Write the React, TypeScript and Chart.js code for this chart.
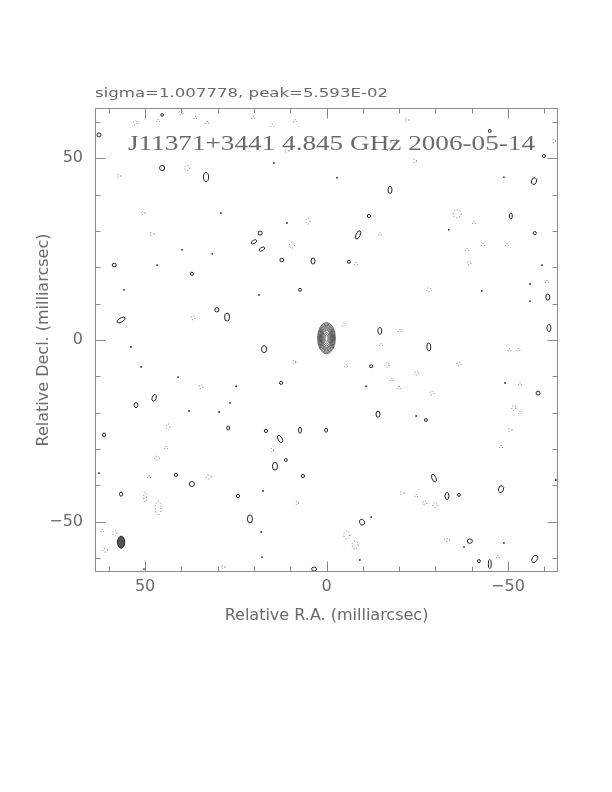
import React, { useEffect, useRef } from 'react';
import { Chart, registerables } from 'chart.js';

Chart.register(...registerables);

// ---------- texts ----------
const SIGMA_TEXT = 'sigma=1.007778, peak=5.593E-02';
const MAP_TITLE = 'J11371+3441 4.845 GHz 2006-05-14';
const X_TITLE = 'Relative R.A. (milliarcsec)';
const Y_TITLE = 'Relative Decl. (milliarcsec)';

// ---------- axes ----------
const AXIS_MIN = -63.8;
const AXIS_MAX = 63.8;
const minorTicks = [-60, -50, -40, -30, -20, -10, 0, 10, 20, 30, 40, 50, 60];
const majorTicks = [-50, 0, 50];
const tickLabels: Record<string, string> = { '50': '50', '0': '0', '-50': '\u221250' };

// ---------- central component: contour half-sizes (mas) ----------
const coreCenter = [0, 0.5];
const coreA = [2.45, 2.2, 1.95, 1.72, 1.5, 1.28, 1.05, 0.75, 0.45];
const coreB = [4.3, 3.95, 3.6, 3.25, 2.9, 2.55, 2.15, 1.6, 1.0];

// ---------- restoring beam [ra, dec, a, b, angle] ----------
const beam = [56.6, -55.6, 1.0, 1.65, 0];

// ---------- positive noise contours [ra, dec, a, b, angle] ----------
const positiveBlobs: number[][] = [
  [62.7, 56.4, 0.55, 0.55, 0], [45.3, 47.3, 0.69, 0.69, 0], [33.2, 44.8, 0.69, 1.24, 0],
  [18.3, 29.4, 0.55, 0.55, 0], [20.0, 27.0, 0.83, 0.45, -30], [17.8, 25.0, 0.83, 0.45, -30],
  [12.3, 22.0, 0.55, 0.5, 0], [3.7, 21.7, 0.55, 0.83, 0], [58.5, 20.6, 0.55, 0.5, 0],
  [37.1, 18.2, 0.41, 0.45, 0], [7.3, 13.8, 0.41, 0.41, 0], [56.6, 5.5, 1.24, 0.55, -30],
  [30.2, 8.3, 0.55, 0.6, 0], [27.4, 6.3, 0.69, 1.1, 0], [-45.0, 57.5, 0.41, 0.41, 0],
  [-59.9, 50.6, 0.41, 0.41, 0], [-17.5, 41.3, 0.55, 0.96, 0], [-57.2, 43.7, 0.69, 0.96, 20],
  [-11.7, 34.1, 0.45, 0.45, 0], [-50.8, 34.1, 0.41, 0.83, 0], [-8.7, 28.9, 0.55, 1.24, 25],
  [-57.4, 29.4, 0.41, 0.45, 0], [-6.2, 21.5, 0.41, 0.41, 0], [-61.0, 11.8, 0.55, 0.83, 0],
  [-14.7, 2.5, 0.55, 0.96, 0], [-61.3, 3.3, 0.55, 0.96, 0], [17.2, -2.5, 0.69, 0.96, 0],
  [12.5, -11.8, 0.45, 0.41, 0], [47.5, -15.9, 0.55, 0.96, 20], [52.5, -17.9, 0.55, 0.69, 0],
  [61.3, -26.1, 0.41, 0.55, 0], [27.1, -24.2, 0.41, 0.55, 0], [16.7, -25.0, 0.45, 0.45, 0],
  [7.3, -24.8, 0.41, 0.83, 0], [0.1, -24.8, 0.41, 0.55, 0], [12.8, -27.2, 0.55, 1.1, -30],
  [11.2, -33.0, 0.41, 0.41, 0], [14.2, -34.7, 0.69, 1.1, 0], [41.5, -37.1, 0.45, 0.45, 0],
  [37.1, -39.6, 0.69, 0.69, 0], [6.5, -37.4, 0.45, 0.45, 0], [56.6, -42.4, 0.45, 0.55, 0],
  [24.4, -42.9, 0.45, 0.45, 0], [21.1, -49.2, 0.69, 1.1, 0], [3.4, -63.0, 0.69, 0.55, 0],
  [-28.2, -1.9, 0.55, 1.1, 0], [-12.3, -7.2, 0.45, 0.41, 0], [-58.3, -14.6, 0.55, 0.55, 0],
  [-14.2, -20.4, 0.55, 0.83, 0], [-27.4, -22.0, 0.41, 0.41, 0], [-29.6, -38.0, 0.55, 1.1, -25],
  [-48.1, -41.0, 0.69, 0.96, 20], [-33.2, -42.9, 0.55, 0.96, 0], [-36.5, -42.6, 0.41, 0.41, 0],
  [-9.8, -50.1, 0.69, 0.83, -30], [-39.5, -55.3, 0.69, 0.6, 0], [-42.0, -60.8, 0.41, 0.41, 0],
  [-45.0, -61.6, 0.41, 1.24, 0], [-57.4, -60.2, 0.69, 1.1, 30], [45.3, 61.9, 0.35, 0.35, 0],
];

// ---------- negative noise contours (dotted) [ra, dec, a, b] ----------
const negativeBlobs: number[][] = [
  [38.4, 47.3, 0.69, 0.69], [57.2, 45.1, 0.55, 0.41], [50.5, 34.9, 0.55, 0.41], [48.1, 29.1, 0.55, 0.41],
  [9.5, 26.1, 0.69, 0.83], [5.1, 32.7, 0.55, 0.83], [36.8, 6.1, 0.55, 0.55], [40.1, 62.5, 0.55, 0.55],
  [52.7, 59.7, 0.55, 0.55], [46.4, 60.2, 0.41, 0.41], [36.2, 61.1, 0.41, 0.41], [32.9, 59.7, 0.41, 0.41],
  [20.2, 61.1, 0.41, 0.41], [15.0, 58.9, 0.41, 0.41], [8.7, 60.2, 0.41, 0.41], [10.9, 52.0, 0.55, 0.41],
  [-22.2, 60.5, 0.55, 0.41], [-18.9, 54.7, 0.55, 0.55], [-17.2, 52.3, 0.41, 0.41], [-62.7, 54.7, 0.41, 0.55],
  [-24.4, 49.2, 0.41, 0.55], [-36.0, 34.7, 1.1, 1.1], [-40.6, 32.2, 0.41, 0.41], [-14.7, 29.1, 0.41, 0.41],
  [-38.7, 24.8, 0.41, 0.41], [-39.3, 21.2, 0.55, 0.55], [-43.1, 26.1, 0.41, 0.41], [-49.7, 26.1, 0.41, 0.41],
  [-8.1, 20.9, 0.41, 0.41], [-28.2, 13.8, 0.69, 0.55], [-60.7, 16.0, 0.41, 0.41], [-4.8, 4.1, 0.41, 0.41],
  [-20.2, 2.5, 0.41, 0.41], [8.9, -6.1, 0.41, 0.55], [34.6, -12.9, 0.55, 0.55], [43.7, -23.9, 0.55, 0.83],
  [15.0, -30.3, 0.41, 0.55], [44.2, -29.7, 0.41, 0.41], [46.7, -32.5, 0.69, 0.55], [48.9, -37.7, 0.41, 0.41],
  [32.4, -37.7, 0.69, 0.55], [50.0, -43.2, 0.41, 1.38], [46.4, -46.2, 0.83, 1.93], [8.1, -44.8, 0.41, 0.55],
  [61.8, -52.5, 0.41, 0.41], [58.3, -53.1, 0.55, 0.83], [61.0, -57.8, 0.69, 0.55], [28.5, -62.4, 0.55, 0.41],
  [-15.0, -1.4, 0.41, 0.41], [-50.4, -2.8, 0.41, 0.41], [-52.9, -2.8, 0.41, 0.41], [-5.4, -7.2, 0.41, 0.41],
  [-16.7, -6.9, 0.55, 0.69], [-36.5, -6.6, 0.55, 0.55], [-24.9, -9.1, 0.55, 0.55], [-18.0, -11.0, 0.41, 0.41],
  [-20.0, -13.2, 0.41, 0.41], [-53.3, -12.1, 0.41, 0.41], [-29.1, -14.6, 0.55, 0.55], [-51.6, -18.7, 0.55, 0.69],
  [-53.3, -20.1, 0.41, 0.41], [-50.6, -24.8, 0.55, 0.41], [-48.1, -29.4, 0.41, 0.41], [-20.8, -42.1, 0.55, 0.41],
  [-24.7, -42.9, 0.41, 0.41], [-27.1, -44.8, 0.55, 0.55], [-29.9, -45.4, 0.55, 0.69], [-5.6, -53.6, 0.83, 1.1],
  [-7.9, -56.4, 0.83, 1.1], [-33.2, -55.0, 0.69, 0.41], [-47.2, -59.7, 0.41, 0.41],
];

// ---------- single-pixel noise peaks [ra, dec] ----------
const noiseDots: number[][] = [
  [14.5, 48.7], [39.8, 24.8], [31.5, 23.7], [46.7, 20.6], [40.9, -10.2], [26.6, -17.3], [17.5, -41.5],
  [-10.9, -12.7], [-12.3, -48.7], [-37.9, -56.9], [-48.9, -55.8], [-42.8, 13.5], [-33.7, 30.3],
  [-59.4, 20.6], [-56.1, 15.4], [-56.1, 10.7], [18.0, -52.8], [17.8, -59.7], [50.3, -63.0],
  [-48.9, 44.8], [-2.9, 44.6], [55.8, 13.8], [18.6, 12.4], [53.9, -1.9], [51.1, -7.4], [37.9, -19.5],
  [29.6, -19.8], [62.7, -36.6], [24.9, -12.7], [-24.7, -20.9], [-9.2, -60.5], [29.1, 34.9],
  [10.9, 32.2], [-63.2, -38.5], [-49.2, -11.8],
];

const FONT = '"DejaVu Sans", sans-serif';
const TEXT_COLOR = '#6a6a6a';

const toBlob = (r: number[]) => ({ x: r[0], y: r[1], a: r[2], b: r[3], ang: r[4] || 0 });

const blobPlugin = {
  id: 'blobs',
  afterDatasetsDraw(chart: any) {
    const { ctx, chartArea, scales } = chart;
    const xs = scales.x, ys = scales.y;
    ctx.save();
    ctx.beginPath();
    ctx.rect(chartArea.left, chartArea.top, chartArea.right - chartArea.left, chartArea.bottom - chartArea.top);
    ctx.clip();
    chart.data.datasets.forEach((ds: any, i: number) => {
      if (!ds.blobKind) return;
      const meta = chart.getDatasetMeta(i);
      meta.data.forEach((el: any, j: number) => {
        const raw = ds.data[j];
        const rx = Math.abs(xs.getPixelForValue(raw.x + raw.a) - xs.getPixelForValue(raw.x));
        const ry = Math.abs(ys.getPixelForValue(raw.y + raw.b) - ys.getPixelForValue(raw.y));
        ctx.beginPath();
        ctx.ellipse(el.x, el.y, rx, ry, (raw.ang * Math.PI) / 180, 0, Math.PI * 2);
        if (ds.blobKind === 'neg') {
          ctx.setLineDash([1, 2]);
          ctx.strokeStyle = '#777';
          ctx.lineWidth = 1;
          ctx.stroke();
          ctx.setLineDash([]);
        } else if (ds.blobKind === 'beam') {
          ctx.fillStyle = '#555';
          ctx.fill();
          ctx.strokeStyle = '#222';
          ctx.lineWidth = 1;
          ctx.stroke();
        } else if (ds.blobKind === 'core') {
          ctx.strokeStyle = '#333';
          ctx.lineWidth = 0.8;
          ctx.stroke();
        } else {
          ctx.strokeStyle = '#222';
          ctx.lineWidth = 1;
          ctx.stroke();
        }
      });
    });
    ctx.restore();
  },
};

const framePlugin = {
  id: 'frame',
  afterDraw(chart: any) {
    const { ctx, chartArea: ca, scales } = chart;
    const xs = scales.x, ys = scales.y;
    ctx.save();
    ctx.strokeStyle = '#8a8a8a';
    ctx.lineWidth = 1;
    const L = Math.round(ca.left) + 0.5, R = Math.round(ca.right) - 0.5;
    const T = Math.round(ca.top) + 0.5, B = Math.round(ca.bottom) - 0.5;
    ctx.strokeRect(L, T, R - L, B - T);
    ctx.beginPath();
    minorTicks.forEach((v) => {
      const len = majorTicks.includes(v) ? 10 : 5;
      const px = Math.round(xs.getPixelForValue(v)) + 0.5;
      ctx.moveTo(px, B); ctx.lineTo(px, B - len);
      ctx.moveTo(px, T); ctx.lineTo(px, T + len);
      const py = Math.round(ys.getPixelForValue(v)) + 0.5;
      ctx.moveTo(L, py); ctx.lineTo(L + len, py);
      ctx.moveTo(R, py); ctx.lineTo(R - len, py);
    });
    ctx.stroke();

    const drawFit = (text: string, font: string, x: number, y: number, width: number, color: string) => {
      ctx.font = font;
      ctx.fillStyle = color;
      ctx.textBaseline = 'alphabetic';
      ctx.textAlign = 'left';
      const w = ctx.measureText(text).width;
      ctx.save();
      ctx.translate(x, y);
      ctx.scale(width / w, 1);
      ctx.fillText(text, 0, 0);
      ctx.restore();
    };
    drawFit(SIGMA_TEXT, '13px ' + FONT, 95, 97, 293, TEXT_COLOR);
    drawFit(MAP_TITLE, '22px "Liberation Serif", serif', 128, 150, 407, '#6a6a6a');
    ctx.restore();
  },
};

const tickCallback = (v: any) => {
  const k = String(Math.round(Number(v)));
  return tickLabels[k] ?? '';
};

export default function App() {
  const ref = useRef<HTMLCanvasElement>(null);
  useEffect(() => {
    const chart = new Chart(ref.current as HTMLCanvasElement, {
      type: 'scatter',
      data: {
        datasets: [
          { data: negativeBlobs.map(toBlob), pointRadius: 0, blobKind: 'neg' } as any,
          { data: positiveBlobs.map(toBlob), pointRadius: 0, blobKind: 'pos' } as any,
          {
            data: coreA.map((a, i) => ({ x: coreCenter[0], y: coreCenter[1], a, b: coreB[i], ang: 0 })),
            pointRadius: 0,
            blobKind: 'core',
          } as any,
          { data: [toBlob(beam)], pointRadius: 0, blobKind: 'beam' } as any,
          {
            data: noiseDots.map((d) => ({ x: d[0], y: d[1] })),
            pointRadius: 0.9,
            pointBackgroundColor: '#222',
            pointBorderWidth: 0,
          } as any,
        ],
      },
      options: {
        responsive: false,
        animation: false,
        events: [],
        layout: { padding: { left: 34, right: 54, top: 108, bottom: 167 } },
        plugins: { legend: { display: false }, tooltip: { enabled: false }, title: { display: false } },
        scales: {
          x: {
            type: 'linear',
            position: 'bottom',
            reverse: true,
            min: AXIS_MIN,
            max: AXIS_MAX,
            grid: { display: false, drawTicks: false },
            border: { display: false },
            ticks: {
              stepSize: 10,
              includeBounds: false,
              autoSkip: false,
              maxRotation: 0,
              padding: 5,
              color: TEXT_COLOR,
              font: { family: FONT, size: 16 },
              callback: tickCallback,
            },
            title: { display: true, text: X_TITLE, color: TEXT_COLOR, font: { family: FONT, size: 16 }, padding: 0 },
            afterFit: (s: any) => { s.height = 53; },
          },
          y: {
            type: 'linear',
            position: 'left',
            min: AXIS_MIN,
            max: AXIS_MAX,
            grid: { display: false, drawTicks: false },
            border: { display: false },
            ticks: {
              stepSize: 10,
              includeBounds: false,
              autoSkip: false,
              padding: 12,
              color: TEXT_COLOR,
              font: { family: FONT, size: 16 },
              callback: tickCallback,
            },
            title: { display: true, text: Y_TITLE, color: TEXT_COLOR, font: { family: FONT, size: 16 }, padding: 0 },
            afterFit: (s: any) => { s.width = 61; },
          },
        },
      } as any,
      plugins: [blobPlugin, framePlugin],
    });
    return () => chart.destroy();
  }, []);
  return (
    <div style={{ position: 'absolute', left: 0, top: 0, width: 612, height: 792, background: '#fff' }}>
      <canvas ref={ref} width={612} height={792} style={{ display: 'block', width: 612, height: 792 }} />
    </div>
  );
}
